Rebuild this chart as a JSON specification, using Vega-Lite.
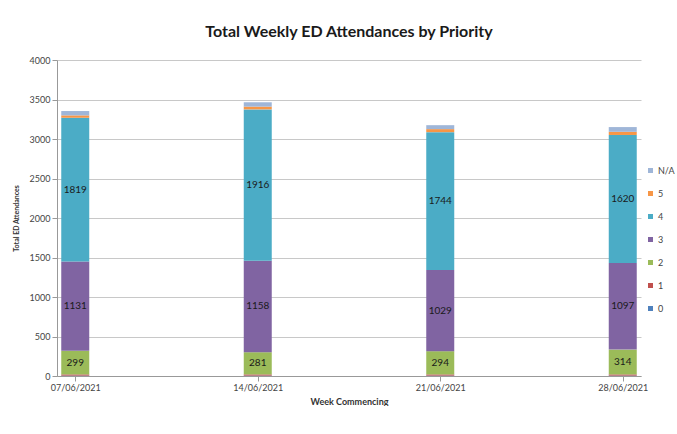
{
  "$schema": "https://vega.github.io/schema/vega-lite/v6.json",
  "width": 584,
  "height": 316,
  "padding": {"left": 12, "top": 24, "right": 0, "bottom": 0},
  "background": "white",
  "config": {
    "font": "Lato",
    "view": {"stroke": null},
    "axis": {"labelOverlap": false}
  },
  "title": {
    "text": "Total Weekly ED Attendances by Priority",
    "fontSize": 16,
    "fontWeight": "bold",
    "font": "Lato",
    "color": "#1a1a1a",
    "anchor": "middle",
    "offset": 16
  },
  "data": {
    "values": [
      {"week": "07/06/2021", "priority": "0", "count": 5},
      {"week": "07/06/2021", "priority": "1", "count": 15},
      {"week": "07/06/2021", "priority": "2", "count": 299},
      {"week": "07/06/2021", "priority": "3", "count": 1131},
      {"week": "07/06/2021", "priority": "4", "count": 1819},
      {"week": "07/06/2021", "priority": "5", "count": 30},
      {"week": "07/06/2021", "priority": "N/A", "count": 55},
      {"week": "14/06/2021", "priority": "0", "count": 5},
      {"week": "14/06/2021", "priority": "1", "count": 15},
      {"week": "14/06/2021", "priority": "2", "count": 281},
      {"week": "14/06/2021", "priority": "3", "count": 1158},
      {"week": "14/06/2021", "priority": "4", "count": 1916},
      {"week": "14/06/2021", "priority": "5", "count": 35},
      {"week": "14/06/2021", "priority": "N/A", "count": 55},
      {"week": "21/06/2021", "priority": "0", "count": 5},
      {"week": "21/06/2021", "priority": "1", "count": 15},
      {"week": "21/06/2021", "priority": "2", "count": 294},
      {"week": "21/06/2021", "priority": "3", "count": 1029},
      {"week": "21/06/2021", "priority": "4", "count": 1744},
      {"week": "21/06/2021", "priority": "5", "count": 38},
      {"week": "21/06/2021", "priority": "N/A", "count": 50},
      {"week": "28/06/2021", "priority": "0", "count": 5},
      {"week": "28/06/2021", "priority": "1", "count": 15},
      {"week": "28/06/2021", "priority": "2", "count": 314},
      {"week": "28/06/2021", "priority": "3", "count": 1097},
      {"week": "28/06/2021", "priority": "4", "count": 1620},
      {"week": "28/06/2021", "priority": "5", "count": 40},
      {"week": "28/06/2021", "priority": "N/A", "count": 60}
    ]
  },
  "transform": [
    {"stack": "count", "groupby": ["week"], "sort": [{"field": "priority", "order": "ascending"}], "as": ["y0", "y1"]},
    {"calculate": "(datum.y0 + datum.y1) / 2", "as": "ymid"}
  ],
  "encoding": {
    "x": {
      "field": "week",
      "type": "ordinal",
      "scale": {"type": "point", "padding": 0.1},
      "axis": {
        "title": "Week Commencing",
        "titleFontSize": 9,
        "titleFontWeight": "bold",
        "titleColor": "#333",
        "titlePadding": 5,
        "labelAngle": 0,
        "labelFontSize": 9,
        "labelColor": "#444",
        "domainColor": "#999",
        "tickColor": "#999",
        "grid": false
      }
    }
  },
  "layer": [
    {
      "mark": {"type": "bar", "size": 28},
      "encoding": {
        "y": {
          "field": "y0",
          "type": "quantitative",
          "scale": {"domain": [0, 4000]},
          "axis": {
            "title": "Total ED Attendances",
            "titleFontSize": 7,
            "titleFontWeight": "bold",
            "titleColor": "#333",
            "titlePadding": 10,
            "format": "d",
            "values": [0, 500, 1000, 1500, 2000, 2500, 3000, 3500, 4000],
            "labelOverlap": false,
            "labelFontSize": 9,
            "labelColor": "#444",
            "gridColor": "#c8c8c8",
            "domainColor": "#999",
            "tickColor": "#999"
          }
        },
        "y2": {"field": "y1"},
        "color": {
          "field": "priority",
          "type": "nominal",
          "scale": {
            "domain": ["N/A", "5", "4", "3", "2", "1", "0"],
            "range": ["#9fb6d8", "#f79646", "#4bacc6", "#8064a2", "#9bbb59", "#c0504d", "#4f81bd"]
          },
          "legend": {
            "title": null,
            "orient": "none",
            "legendX": 589,
            "legendY": 106,
            "symbolType": "square",
            "symbolSize": 25,
            "labelFontSize": 9,
            "labelOffset": 3,
            "labelColor": "#444",
            "rowPadding": 13
          }
        }
      }
    },
    {
      "transform": [{"filter": "datum.priority == '2' || datum.priority == '3' || datum.priority == '4'"}],
      "mark": {"type": "text", "fontSize": 10, "color": "#1a1a1a"},
      "encoding": {
        "y": {
          "field": "ymid",
          "type": "quantitative",
          "axis": {
            "title": "Total ED Attendances",
            "titleFontSize": 7,
            "titleFontWeight": "bold",
            "titleColor": "#333",
            "titlePadding": 10,
            "format": "d",
            "values": [0, 500, 1000, 1500, 2000, 2500, 3000, 3500, 4000],
            "labelOverlap": false,
            "labelFontSize": 9,
            "labelColor": "#444",
            "gridColor": "#c8c8c8",
            "domainColor": "#999",
            "tickColor": "#999"
          }
        },
        "text": {"field": "count", "type": "quantitative"}
      }
    }
  ]
}
